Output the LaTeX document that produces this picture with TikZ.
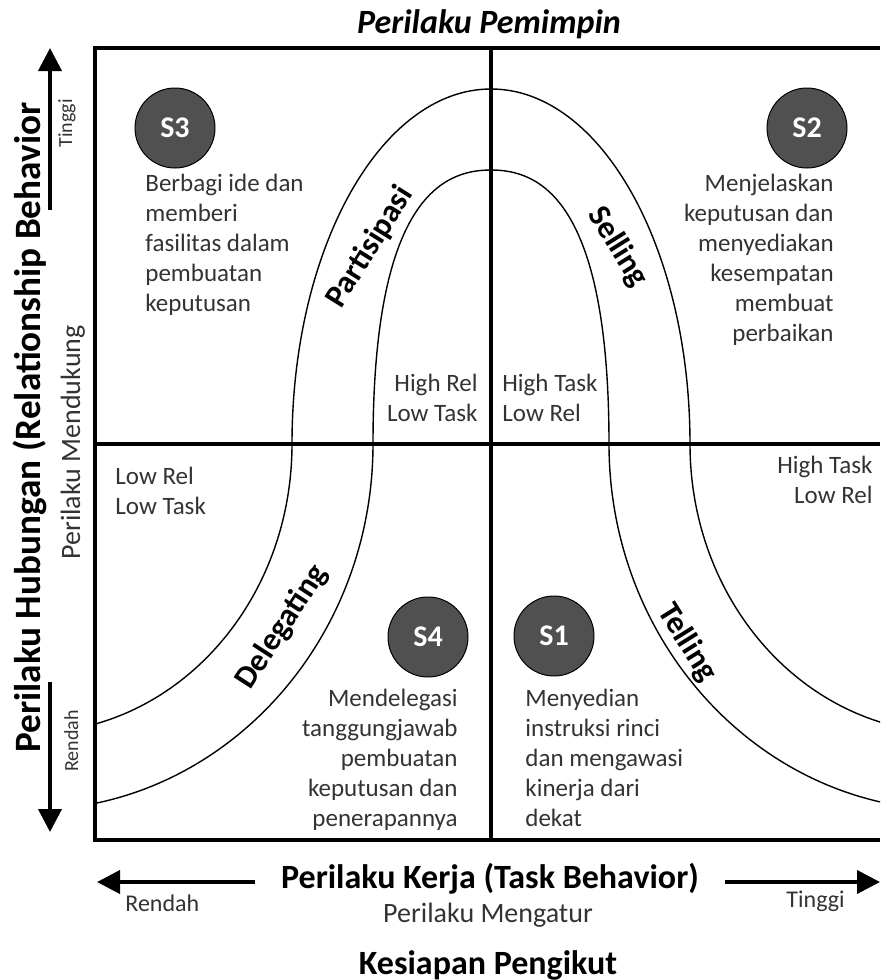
\documentclass[tikz,border=0pt]{standalone}
\usepackage{fontspec}
\setmainfont{Carlito}
\usetikzlibrary{arrows.meta}
\definecolor{badgegray}{HTML}{505050}
\definecolor{txtgray}{HTML}{333333}

\begin{document}
\begin{tikzpicture}[x=0.5pt,y=-0.5pt,
  boxline/.style={line width=2.4pt},
  midline/.style={line width=2pt},
  bell/.style={line width=0.7pt},
  axisarrow/.style={line width=2pt,-{Triangle[length=11.5pt,width=11.5pt]}},
  badge/.style={circle,draw=black,line width=0.5pt,fill=badgegray,minimum size=40pt,inner sep=0pt,text=white,font=\fontsize{15}{18}\selectfont\bfseries},
  desc/.style={font=\fontsize{12.5}{15}\selectfont,text=txtgray,inner sep=0pt},
  stylelbl/.style={font=\fontsize{16}{19}\selectfont\bfseries,inner sep=0pt},
  axislbl/.style={font=\fontsize{17}{20}\selectfont\bfseries,inner sep=0pt},
  sublbl/.style={font=\fontsize{14}{17}\selectfont,text=txtgray,inner sep=0pt},
  endlbl/.style={font=\fontsize{12}{14}\selectfont,text=txtgray,inner sep=0pt}]

\useasboundingbox (0,0) rectangle (880,980);

% Points
\coordinate (TL) at (95,48);
\coordinate (BL) at (95,840);
\coordinate (TR) at (880,48);
\coordinate (BR) at (880,840);
\coordinate (ML) at (95,444);
\coordinate (MR) at (880,444);
\coordinate (MT) at (491,48);
\coordinate (MB) at (491,840);

% Bell curves
\begin{scope}
\clip (TL) rectangle (BR);
\draw[bell] (30,733) .. controls (175,733) and (292,604) .. (292,444)
  .. controls (292,248) and (381,89) .. (491,89)
  .. controls (601,89) and (690,248) .. (690,444)
  .. controls (690,604) and (807,733) .. (952,733);
\draw[bell] (30,810) .. controls (219,810) and (373,646) .. (373,444)
  .. controls (373,197) and (444,170) .. (491,170)
  .. controls (538,170) and (609,197) .. (609,444)
  .. controls (609,646) and (763,810) .. (952,810);
\end{scope}

% Frame and quadrants
\draw[boxline] (TR) -- (TL) -- (BL) -- (BR);
\draw[midline] (ML) -- (MR);
\draw[midline] (MT) -- (MB);

% Axis arrows
\coordinate (upA) at (50,210);
\coordinate (upB) at (50,48);
\coordinate (dnA) at (50,682);
\coordinate (dnB) at (50,832);
\coordinate (lfA) at (255,882);
\coordinate (lfB) at (97,882);
\coordinate (rtA) at (725,882);
\coordinate (rtB) at (880,882);
\draw[axisarrow] (upA) -- (upB);
\draw[axisarrow] (dnA) -- (dnB);
\draw[axisarrow] (lfA) -- (lfB);
\draw[axisarrow] (rtA) -- (rtB);

% Style badges
\node[badge] (s3) at (175,128) {S3};
\node[badge] (s2) at (807,128) {S2};
\node[badge] (s4) at (428,637) {S4};
\node[badge] (s1) at (554,636) {S1};

% Descriptions
\node[desc,align=left,anchor=north west] (s3txt) at (145,174)
  {Berbagi ide dan\\memberi\\fasilitas dalam\\pembuatan\\keputusan};
\node[desc,align=right,anchor=north east] (s2txt) at (834,174)
  {Menjelaskan\\keputusan dan\\menyediakan\\kesempatan\\membuat\\perbaikan};
\node[desc,align=right,anchor=north east] (s4txt) at (458,689)
  {Mendelegasi\\tanggungjawab\\pembuatan\\keputusan dan\\penerapannya};
\node[desc,align=left,anchor=north west] (s1txt) at (525,689)
  {Menyedian\\instruksi rinci\\dan mengawasi\\kinerja dari\\dekat};

% Quadrant tags
\node[desc,align=right,anchor=north east] (tagHRLT) at (478,374) {High Rel\\Low Task};
\node[desc,align=left,anchor=north west] (tagHTLR) at (502,374) {High Task\\Low Rel};
\node[desc,align=left,anchor=north west] (tagLRLT) at (115,467) {Low Rel\\Low Task};
\node[desc,align=right,anchor=north east] (tagHTLR2) at (873,456) {High Task\\Low Rel};

% Curve labels
\node[stylelbl,rotate=58] (partisipasi) at (370,247) {Partisipasi};
\node[stylelbl,rotate=-58] (selling) at (618,247) {Selling};
\node[stylelbl,rotate=57] (delegating) at (282,627) {Delegating};
\node[stylelbl,rotate=-58] (telling) at (687,643) {Telling};

% Axis labels
\node[axislbl,anchor=base] (lead) at (489,33) {\itshape Perilaku Pemimpin};
\node[axislbl,anchor=base] (task) at (490,888) {Perilaku Kerja (Task Behavior)};
\node[sublbl,anchor=base] (atur) at (488,922) {Perilaku Mengatur};
\node[axislbl,anchor=base] (siap) at (488,974) {Kesiapan Pengikut};
\node[endlbl,anchor=base west] (lowX) at (125,911) {Rendah};
\node[endlbl,anchor=base east] (highX) at (845,907) {Tinggi};
\node[axislbl,font=\fontsize{18.6}{21}\selectfont\bfseries,rotate=90,anchor=base west] (rel) at (40,753)
  {Perilaku Hubungan (Relationship Behavior};
\node[sublbl,rotate=90,anchor=base west] (dukung) at (80,560) {Perilaku Mendukung};
\node[endlbl,font=\fontsize{10}{12}\selectfont,rotate=90,anchor=base west] (highY) at (72,148) {Tinggi};
\node[endlbl,font=\fontsize{10}{12}\selectfont,rotate=90,anchor=base west] (lowY) at (78,772) {Rendah};
\end{tikzpicture}
\end{document}
